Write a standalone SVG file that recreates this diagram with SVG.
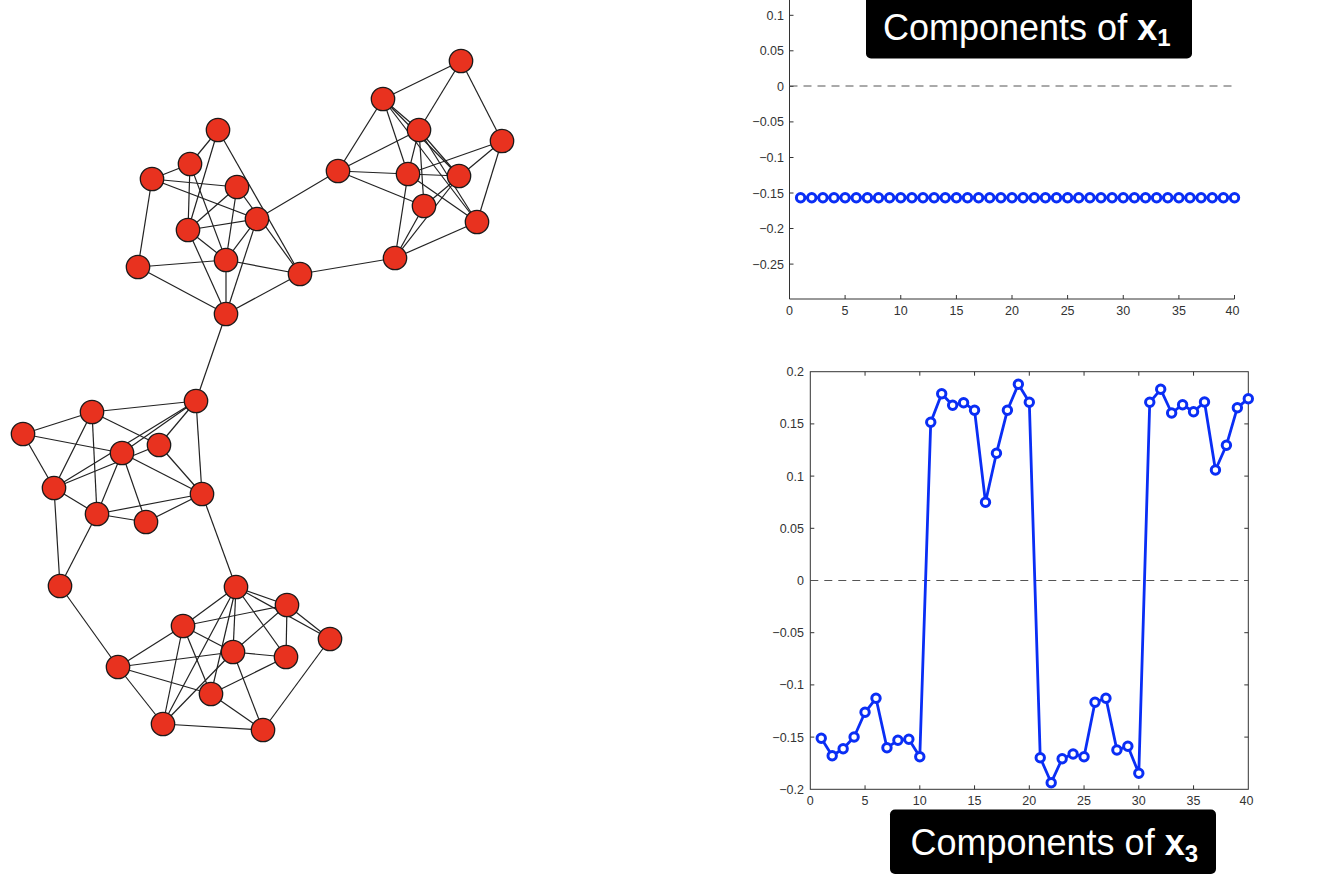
<svg xmlns="http://www.w3.org/2000/svg" xmlns:xlink="http://www.w3.org/1999/xlink" width="1324" height="878" viewBox="0 0 1324 878">
<style>
.edge{stroke:#222;stroke-width:1.2;fill:none}
.node{fill:#e8321f;stroke:#1a1a1a;stroke-width:1.3}
.ax{stroke:#333;stroke-width:1;fill:none}
.tk{font-family:"Liberation Sans",Arial,sans-serif;font-size:12.5px;fill:#333}
.dash{stroke:#555;stroke-width:1;stroke-dasharray:8,6;fill:none}
.data{stroke:#0a2ef5;stroke-width:2.8;fill:none;stroke-linejoin:round}
.mk{stroke:#0a2ef5;stroke-width:3;fill:#fff}
.lbox{fill:#000}
.ltxt{font-family:"Liberation Sans",Arial,sans-serif;font-size:36px;fill:#fff}
</style>
<defs>
<circle id="m" class="mk" r="4.2" cx="0" cy="0"/>
</defs>
<rect width="1324" height="878" fill="#fff"/>
<g id="connectors">
<line class="edge" x1="218" y1="130" x2="190" y2="164"/>
<line class="edge" x1="218" y1="130" x2="188" y2="230"/>
<line class="edge" x1="218" y1="130" x2="300" y2="274"/>
<line class="edge" x1="237" y1="187" x2="300" y2="274"/>
<line class="edge" x1="190" y1="164" x2="152" y2="179"/>
<line class="edge" x1="190" y1="164" x2="188" y2="230"/>
<line class="edge" x1="190" y1="164" x2="226" y2="260"/>
<line class="edge" x1="152" y1="179" x2="237" y2="187"/>
<line class="edge" x1="152" y1="179" x2="257" y2="219"/>
<line class="edge" x1="152" y1="179" x2="138" y2="267"/>
<line class="edge" x1="237" y1="187" x2="188" y2="230"/>
<line class="edge" x1="237" y1="187" x2="226" y2="260"/>
<line class="edge" x1="257" y1="219" x2="188" y2="230"/>
<line class="edge" x1="257" y1="219" x2="226" y2="260"/>
<line class="edge" x1="257" y1="219" x2="226" y2="314"/>
<line class="edge" x1="188" y1="230" x2="226" y2="260"/>
<line class="edge" x1="188" y1="230" x2="226" y2="314"/>
<line class="edge" x1="226" y1="260" x2="138" y2="267"/>
<line class="edge" x1="226" y1="260" x2="300" y2="274"/>
<line class="edge" x1="226" y1="260" x2="226" y2="314"/>
<line class="edge" x1="138" y1="267" x2="226" y2="314"/>
<line class="edge" x1="300" y1="274" x2="226" y2="314"/>
<line class="edge" x1="461" y1="61" x2="383" y2="99"/>
<line class="edge" x1="461" y1="61" x2="419" y2="130"/>
<line class="edge" x1="461" y1="61" x2="502" y2="141"/>
<line class="edge" x1="383" y1="99" x2="338" y2="171"/>
<line class="edge" x1="383" y1="99" x2="408" y2="174"/>
<line class="edge" x1="383" y1="99" x2="419" y2="130"/>
<line class="edge" x1="383" y1="99" x2="459" y2="176"/>
<line class="edge" x1="383" y1="99" x2="477" y2="222"/>
<line class="edge" x1="419" y1="130" x2="338" y2="171"/>
<line class="edge" x1="419" y1="130" x2="408" y2="174"/>
<line class="edge" x1="419" y1="130" x2="424" y2="206"/>
<line class="edge" x1="419" y1="130" x2="459" y2="176"/>
<line class="edge" x1="419" y1="130" x2="477" y2="222"/>
<line class="edge" x1="502" y1="141" x2="408" y2="174"/>
<line class="edge" x1="502" y1="141" x2="424" y2="206"/>
<line class="edge" x1="502" y1="141" x2="477" y2="222"/>
<line class="edge" x1="338" y1="171" x2="408" y2="174"/>
<line class="edge" x1="338" y1="171" x2="424" y2="206"/>
<line class="edge" x1="408" y1="174" x2="459" y2="176"/>
<line class="edge" x1="408" y1="174" x2="395" y2="258"/>
<line class="edge" x1="408" y1="174" x2="477" y2="222"/>
<line class="edge" x1="459" y1="176" x2="395" y2="258"/>
<line class="edge" x1="424" y1="206" x2="395" y2="258"/>
<line class="edge" x1="477" y1="222" x2="395" y2="258"/>
<line class="edge" x1="196" y1="401" x2="92" y2="412"/>
<line class="edge" x1="196" y1="401" x2="159" y2="445"/>
<line class="edge" x1="196" y1="401" x2="122" y2="453"/>
<line class="edge" x1="196" y1="401" x2="54" y2="488"/>
<line class="edge" x1="196" y1="401" x2="202" y2="494"/>
<line class="edge" x1="92" y1="412" x2="23" y2="434"/>
<line class="edge" x1="92" y1="412" x2="159" y2="445"/>
<line class="edge" x1="92" y1="412" x2="54" y2="488"/>
<line class="edge" x1="92" y1="412" x2="97" y2="514"/>
<line class="edge" x1="23" y1="434" x2="122" y2="453"/>
<line class="edge" x1="23" y1="434" x2="54" y2="488"/>
<line class="edge" x1="159" y1="445" x2="54" y2="488"/>
<line class="edge" x1="159" y1="445" x2="202" y2="494"/>
<line class="edge" x1="122" y1="453" x2="202" y2="494"/>
<line class="edge" x1="122" y1="453" x2="97" y2="514"/>
<line class="edge" x1="122" y1="453" x2="146" y2="522"/>
<line class="edge" x1="54" y1="488" x2="97" y2="514"/>
<line class="edge" x1="97" y1="514" x2="146" y2="522"/>
<line class="edge" x1="97" y1="514" x2="202" y2="494"/>
<line class="edge" x1="146" y1="522" x2="202" y2="494"/>
<line class="edge" x1="236" y1="587" x2="287" y2="605"/>
<line class="edge" x1="236" y1="587" x2="330" y2="639"/>
<line class="edge" x1="236" y1="587" x2="183" y2="626"/>
<line class="edge" x1="236" y1="587" x2="233" y2="652"/>
<line class="edge" x1="236" y1="587" x2="286" y2="657"/>
<line class="edge" x1="236" y1="587" x2="211" y2="694"/>
<line class="edge" x1="236" y1="587" x2="163" y2="724"/>
<line class="edge" x1="287" y1="605" x2="183" y2="626"/>
<line class="edge" x1="287" y1="605" x2="286" y2="657"/>
<line class="edge" x1="287" y1="605" x2="233" y2="652"/>
<line class="edge" x1="287" y1="605" x2="330" y2="639"/>
<line class="edge" x1="183" y1="626" x2="118" y2="667"/>
<line class="edge" x1="183" y1="626" x2="233" y2="652"/>
<line class="edge" x1="183" y1="626" x2="163" y2="724"/>
<line class="edge" x1="183" y1="626" x2="211" y2="694"/>
<line class="edge" x1="233" y1="652" x2="118" y2="667"/>
<line class="edge" x1="233" y1="652" x2="286" y2="657"/>
<line class="edge" x1="233" y1="652" x2="263" y2="730"/>
<line class="edge" x1="233" y1="652" x2="163" y2="724"/>
<line class="edge" x1="118" y1="667" x2="211" y2="694"/>
<line class="edge" x1="118" y1="667" x2="163" y2="724"/>
<line class="edge" x1="211" y1="694" x2="286" y2="657"/>
<line class="edge" x1="211" y1="694" x2="263" y2="730"/>
<line class="edge" x1="163" y1="724" x2="263" y2="730"/>
<line class="edge" x1="263" y1="730" x2="330" y2="639"/>
<line class="edge" x1="226" y1="314" x2="196" y2="401"/>
<line class="edge" x1="257" y1="219" x2="338" y2="171"/>
<line class="edge" x1="300" y1="274" x2="395" y2="258"/>
<line class="edge" x1="202" y1="494" x2="236" y2="587"/>
<line class="edge" x1="54" y1="488" x2="60" y2="586"/>
<line class="edge" x1="97" y1="514" x2="60" y2="586"/>
<line class="edge" x1="60" y1="586" x2="118" y2="667"/>
</g>
<g id="n1"><circle class="node" cx="461" cy="61" r="11.7"/></g>
<g id="n2"><circle class="node" cx="383" cy="99" r="11.7"/></g>
<g id="n3"><circle class="node" cx="419" cy="130" r="11.7"/></g>
<g id="n4"><circle class="node" cx="502" cy="141" r="11.7"/></g>
<g id="n5"><circle class="node" cx="338" cy="171" r="11.7"/></g>
<g id="n6"><circle class="node" cx="408" cy="174" r="11.7"/></g>
<g id="n7"><circle class="node" cx="459" cy="176" r="11.7"/></g>
<g id="n8"><circle class="node" cx="424" cy="206" r="11.7"/></g>
<g id="n9"><circle class="node" cx="477" cy="222" r="11.7"/></g>
<g id="n10"><circle class="node" cx="395" cy="258" r="11.7"/></g>
<g id="n11"><circle class="node" cx="218" cy="130" r="11.7"/></g>
<g id="n12"><circle class="node" cx="190" cy="164" r="11.7"/></g>
<g id="n13"><circle class="node" cx="152" cy="179" r="11.7"/></g>
<g id="n14"><circle class="node" cx="237" cy="187" r="11.7"/></g>
<g id="n15"><circle class="node" cx="257" cy="219" r="11.7"/></g>
<g id="n16"><circle class="node" cx="188" cy="230" r="11.7"/></g>
<g id="n17"><circle class="node" cx="226" cy="260" r="11.7"/></g>
<g id="n18"><circle class="node" cx="138" cy="267" r="11.7"/></g>
<g id="n19"><circle class="node" cx="300" cy="274" r="11.7"/></g>
<g id="n20"><circle class="node" cx="226" cy="314" r="11.7"/></g>
<g id="n21"><circle class="node" cx="196" cy="401" r="11.7"/></g>
<g id="n22"><circle class="node" cx="92" cy="412" r="11.7"/></g>
<g id="n23"><circle class="node" cx="23" cy="434" r="11.7"/></g>
<g id="n24"><circle class="node" cx="159" cy="445" r="11.7"/></g>
<g id="n25"><circle class="node" cx="122" cy="453" r="11.7"/></g>
<g id="n26"><circle class="node" cx="54" cy="488" r="11.7"/></g>
<g id="n27"><circle class="node" cx="202" cy="494" r="11.7"/></g>
<g id="n28"><circle class="node" cx="97" cy="514" r="11.7"/></g>
<g id="n29"><circle class="node" cx="146" cy="522" r="11.7"/></g>
<g id="n30"><circle class="node" cx="60" cy="586" r="11.7"/></g>
<g id="n31"><circle class="node" cx="236" cy="587" r="11.7"/></g>
<g id="n32"><circle class="node" cx="287" cy="605" r="11.7"/></g>
<g id="n33"><circle class="node" cx="183" cy="626" r="11.7"/></g>
<g id="n34"><circle class="node" cx="330" cy="639" r="11.7"/></g>
<g id="n35"><circle class="node" cx="233" cy="652" r="11.7"/></g>
<g id="n36"><circle class="node" cx="286" cy="657" r="11.7"/></g>
<g id="n37"><circle class="node" cx="118" cy="667" r="11.7"/></g>
<g id="n38"><circle class="node" cx="211" cy="694" r="11.7"/></g>
<g id="n39"><circle class="node" cx="163" cy="724" r="11.7"/></g>
<g id="n40"><circle class="node" cx="263" cy="730" r="11.7"/></g>

<g id="plot1">
<path class="ax" d="M789.5,0 V299 H1234.5"/>
<path class="ax" d="M789.5,15.3 h4 M789.5,50.8 h4 M789.5,86.4 h4 M789.5,121.9 h4 M789.5,157.5 h4 M789.5,193 h4 M789.5,228.5 h4 M789.5,264.1 h4"/>
<path class="ax" d="M789.5,299 v-4 M845.1,299 v-4 M900.75,299 v-4 M956.4,299 v-4 M1012,299 v-4 M1067.6,299 v-4 M1123.25,299 v-4 M1178.9,299 v-4 M1234.5,299 v-4"/>
<g class="tk" text-anchor="end">
<text x="784" y="19.8">0.1</text>
<text x="784" y="55.3">0.05</text>
<text x="784" y="90.9">0</text>
<text x="784" y="126.4">−0.05</text>
<text x="784" y="162">−0.1</text>
<text x="784" y="197.5">−0.15</text>
<text x="784" y="233">−0.2</text>
<text x="784" y="268.6">−0.25</text>
</g>
<g class="tk" text-anchor="middle">
<text x="789.5" y="315">0</text>
<text x="845.1" y="315">5</text>
<text x="900.75" y="315">10</text>
<text x="956.4" y="315">15</text>
<text x="1012" y="315">20</text>
<text x="1067.6" y="315">25</text>
<text x="1123.25" y="315">30</text>
<text x="1178.9" y="315">35</text>
<text x="1232.5" y="315">40</text>
</g>
<line class="dash" x1="789.5" y1="86" x2="1234.5" y2="86"/>
<line class="data" x1="800.6" y1="197.7" x2="1234.5" y2="197.7"/>
<g>
<use xlink:href="#m" x="800.6" y="197.7"/><use xlink:href="#m" x="811.75" y="197.7"/><use xlink:href="#m" x="822.9" y="197.7"/><use xlink:href="#m" x="834" y="197.7"/><use xlink:href="#m" x="845.1" y="197.7"/><use xlink:href="#m" x="856.25" y="197.7"/><use xlink:href="#m" x="867.4" y="197.7"/><use xlink:href="#m" x="878.5" y="197.7"/><use xlink:href="#m" x="889.6" y="197.7"/><use xlink:href="#m" x="900.75" y="197.7"/>
<use xlink:href="#m" x="911.9" y="197.7"/><use xlink:href="#m" x="923" y="197.7"/><use xlink:href="#m" x="934.1" y="197.7"/><use xlink:href="#m" x="945.25" y="197.7"/><use xlink:href="#m" x="956.4" y="197.7"/><use xlink:href="#m" x="967.5" y="197.7"/><use xlink:href="#m" x="978.6" y="197.7"/><use xlink:href="#m" x="989.75" y="197.7"/><use xlink:href="#m" x="1000.9" y="197.7"/><use xlink:href="#m" x="1012" y="197.7"/>
<use xlink:href="#m" x="1023.1" y="197.7"/><use xlink:href="#m" x="1034.25" y="197.7"/><use xlink:href="#m" x="1045.4" y="197.7"/><use xlink:href="#m" x="1056.5" y="197.7"/><use xlink:href="#m" x="1067.6" y="197.7"/><use xlink:href="#m" x="1078.75" y="197.7"/><use xlink:href="#m" x="1089.9" y="197.7"/><use xlink:href="#m" x="1101" y="197.7"/><use xlink:href="#m" x="1112.1" y="197.7"/><use xlink:href="#m" x="1123.25" y="197.7"/>
<use xlink:href="#m" x="1134.4" y="197.7"/><use xlink:href="#m" x="1145.5" y="197.7"/><use xlink:href="#m" x="1156.6" y="197.7"/><use xlink:href="#m" x="1167.75" y="197.7"/><use xlink:href="#m" x="1178.9" y="197.7"/><use xlink:href="#m" x="1190" y="197.7"/><use xlink:href="#m" x="1201.1" y="197.7"/><use xlink:href="#m" x="1212.25" y="197.7"/><use xlink:href="#m" x="1223.4" y="197.7"/><use xlink:href="#m" x="1234.5" y="197.7"/>
</g>
<g id="label1">
<rect class="lbox" x="866" y="-10" width="326" height="68.5" rx="5"/>
<text class="ltxt" x="883" y="39.5">Components of <tspan font-weight="bold">x</tspan><tspan font-weight="bold" font-size="24" dy="6.5">1</tspan></text>
</g>
</g>

<g id="plot2">
<rect class="ax" x="810.3" y="371.7" width="438" height="417.6"/>
<path class="ax" d="M810.3,423.9 h4 M810.3,476.1 h4 M810.3,528.3 h4 M810.3,580.5 h4 M810.3,632.7 h4 M810.3,684.9 h4 M810.3,737.1 h4 M1248.3,423.9 h-4 M1248.3,476.1 h-4 M1248.3,528.3 h-4 M1248.3,580.5 h-4 M1248.3,632.7 h-4 M1248.3,684.9 h-4 M1248.3,737.1 h-4"/>
<path class="ax" d="M865.05,789.3 v-4 M919.8,789.3 v-4 M974.55,789.3 v-4 M1029.3,789.3 v-4 M1084.05,789.3 v-4 M1138.8,789.3 v-4 M1193.55,789.3 v-4 M865.05,371.7 v4 M919.8,371.7 v4 M974.55,371.7 v4 M1029.3,371.7 v4 M1084.05,371.7 v4 M1138.8,371.7 v4 M1193.55,371.7 v4"/>
<g class="tk" text-anchor="end">
<text x="804" y="376.2">0.2</text>
<text x="804" y="428.4">0.15</text>
<text x="804" y="480.6">0.1</text>
<text x="804" y="532.8">0.05</text>
<text x="804" y="585">0</text>
<text x="804" y="637.2">−0.05</text>
<text x="804" y="689.4">−0.1</text>
<text x="804" y="741.6">−0.15</text>
<text x="804" y="793.8">−0.2</text>
</g>
<g class="tk" text-anchor="middle">
<text x="810.3" y="805">0</text>
<text x="865.05" y="805">5</text>
<text x="919.8" y="805">10</text>
<text x="974.55" y="805">15</text>
<text x="1029.3" y="805">20</text>
<text x="1084.05" y="805">25</text>
<text x="1138.8" y="805">30</text>
<text x="1193.55" y="805">35</text>
<text x="1246.5" y="805">40</text>
</g>
<line class="dash" x1="810.3" y1="580.5" x2="1248.3" y2="580.5"/>
<polyline class="data" points="821.25,738.3 832.2,755.7 843.15,748.7 854.1,737 865.05,712.3 876,698.3 886.95,747.7 897.9,740.3 908.85,739.3 919.8,756.7 930.75,422.3 941.7,393.7 952.65,405.3 963.6,402.7 974.55,410.3 985.5,502.3 996.45,453.3 1007.4,410.3 1018.35,384.3 1029.3,402.3 1040.25,757.7 1051.2,782.7 1062.15,758.7 1073.1,754 1084.05,756.7 1095,702.3 1105.95,698.3 1116.9,750 1127.85,746.3 1138.8,773.3 1149.75,402.3 1160.7,389.3 1171.65,413 1182.6,404.7 1193.55,411.7 1204.5,402 1215.45,470 1226.4,445.3 1237.35,407.7 1248.3,398.7"/>
<g>
<use xlink:href="#m" x="821.25" y="738.3"/><use xlink:href="#m" x="832.2" y="755.7"/><use xlink:href="#m" x="843.15" y="748.7"/><use xlink:href="#m" x="854.1" y="737"/><use xlink:href="#m" x="865.05" y="712.3"/><use xlink:href="#m" x="876" y="698.3"/><use xlink:href="#m" x="886.95" y="747.7"/><use xlink:href="#m" x="897.9" y="740.3"/><use xlink:href="#m" x="908.85" y="739.3"/><use xlink:href="#m" x="919.8" y="756.7"/>
<use xlink:href="#m" x="930.75" y="422.3"/><use xlink:href="#m" x="941.7" y="393.7"/><use xlink:href="#m" x="952.65" y="405.3"/><use xlink:href="#m" x="963.6" y="402.7"/><use xlink:href="#m" x="974.55" y="410.3"/><use xlink:href="#m" x="985.5" y="502.3"/><use xlink:href="#m" x="996.45" y="453.3"/><use xlink:href="#m" x="1007.4" y="410.3"/><use xlink:href="#m" x="1018.35" y="384.3"/><use xlink:href="#m" x="1029.3" y="402.3"/>
<use xlink:href="#m" x="1040.25" y="757.7"/><use xlink:href="#m" x="1051.2" y="782.7"/><use xlink:href="#m" x="1062.15" y="758.7"/><use xlink:href="#m" x="1073.1" y="754"/><use xlink:href="#m" x="1084.05" y="756.7"/><use xlink:href="#m" x="1095" y="702.3"/><use xlink:href="#m" x="1105.95" y="698.3"/><use xlink:href="#m" x="1116.9" y="750"/><use xlink:href="#m" x="1127.85" y="746.3"/><use xlink:href="#m" x="1138.8" y="773.3"/>
<use xlink:href="#m" x="1149.75" y="402.3"/><use xlink:href="#m" x="1160.7" y="389.3"/><use xlink:href="#m" x="1171.65" y="413"/><use xlink:href="#m" x="1182.6" y="404.7"/><use xlink:href="#m" x="1193.55" y="411.7"/><use xlink:href="#m" x="1204.5" y="402"/><use xlink:href="#m" x="1215.45" y="470"/><use xlink:href="#m" x="1226.4" y="445.3"/><use xlink:href="#m" x="1237.35" y="407.7"/><use xlink:href="#m" x="1248.3" y="398.7"/>
</g>
<g id="label2">
<rect class="lbox" x="890" y="809.5" width="326" height="64.5" rx="5"/>
<text class="ltxt" x="910.5" y="855">Components of <tspan font-weight="bold">x</tspan><tspan font-weight="bold" font-size="24" dy="7">3</tspan></text>
</g>
</g>
</svg>
